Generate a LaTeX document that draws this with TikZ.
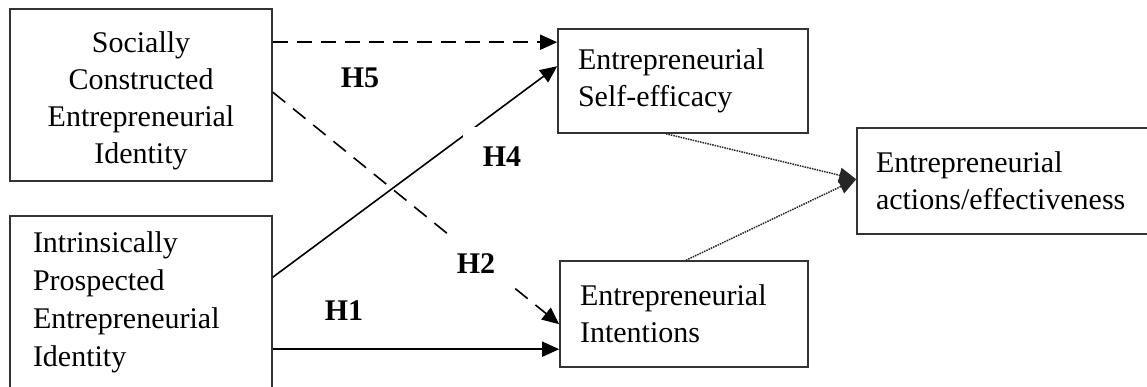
\documentclass[tikz,border=0pt]{standalone}
\usepackage{fontspec}
\setmainfont{Liberation Serif}
\usepackage{tikz}
\usetikzlibrary{arrows.meta}

\begin{document}
\begin{tikzpicture}[
            x = 1pt, y = -1pt, % pixel units, y downwards
            > = {Triangle[length=17pt,width=15pt]}, % arrow head style
            font = \fontsize{30}{37}\selectfont,
            line width = 1.6pt, % line style
            box/.style = {draw=black!80, rectangle, inner ysep=0pt},
            hyp/.style = {fill=white, inner sep=20pt, font=\fontsize{30}{37}\selectfont\bfseries},
            dots/.style = {black!85, line width=1.5pt, dash pattern=on 1.5pt off 1pt}
        ]

\useasboundingbox (0,0) rectangle (1147,386);
\clip (0,0) rectangle (1147,386);

\node[box, minimum width=262pt, minimum height=172pt, text width=222pt, align=center] (SCEI) at (141,95) {Socially\rule{0pt}{32pt}\\ Constructed\\ Entrepreneurial\\ Identity};
\node[box, minimum width=262pt, minimum height=172pt, inner xsep=23pt, text width=216pt, align=left, font=\fontsize{30}{38}\selectfont] (IPEI) at (141,302) {Intrinsically\\ Prospected\\ Entrepreneurial\\ Identity};
\node[box, minimum width=250pt, minimum height=104pt, inner xsep=20pt, text width=210pt, align=left] (ESE) at (683,81) {Entrepreneurial\\ Self-efficacy};
\node[box, minimum width=248pt, minimum height=106pt, inner xsep=20pt, text width=208pt, align=left] (EI) at (684,314) {Entrepreneurial\\ Intentions};
\node[box, minimum width=300pt, minimum height=106pt, inner xsep=19pt, text width=262pt, align=left] (EAE) at (1007,181) {Entrepreneurial\\ actions/effectiveness};

 \path [->, dash pattern=on 15pt off 9pt] ([yshift=-34pt]SCEI.north east) edge ([yshift=-14pt]ESE.north west);
 \path [->, dash pattern=on 16pt off 10pt] ([yshift=-84pt]SCEI.north east) edge ([yshift=-64pt]EI.north west);
 \path [->] ([yshift=-62pt]IPEI.north east) edge ([yshift=-38pt]ESE.north west);
 \path [->] ([yshift=-134pt]IPEI.north east) edge ([yshift=-89pt]EI.north west);
 \path [->, dots] ([xshift=-17pt]ESE.south) edge ([yshift=-52pt]EAE.north west);
 \path [->, dots] ([xshift=2pt]EI.north) edge ([yshift=-52pt]EAE.north west);

\node[hyp] (H5) at (360,78) {H5};
\node[hyp] (H4) at (502,157) {H4};
\node[hyp] (H2) at (476,264) {H2};
\node[hyp] (H1) at (344,311) {H1};
\end{tikzpicture}
\end{document}
